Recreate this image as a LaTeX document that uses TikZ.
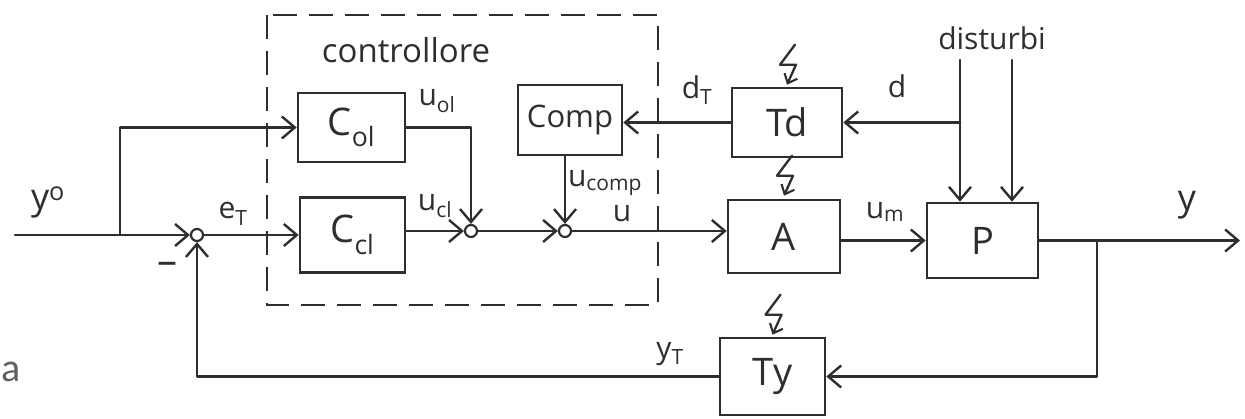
\documentclass[tikz,border=0pt]{standalone}
\usepackage{fontspec}
\setmainfont{Open Sans}
\newfontfamily\notefont{Carlito}
\usetikzlibrary{arrows.meta}

\definecolor{ink}{HTML}{2E2E2E}
\definecolor{notegray}{HTML}{606060}

\tikzset{
  wire/.style={draw=ink, line width=2.6pt, line cap=round, line join=round},
  flow/.style={wire, -{Straight Barb[length=13pt,width=22pt,line width=2.4pt]}},
  block/.style={draw=ink, line width=2.6pt, minimum width=#1, inner sep=0pt, text=ink,
                font=\fontsize{38}{40}\selectfont},
  sumpt/.style={draw=ink, line width=2.2pt, circle, minimum size=12pt, inner sep=0pt},
  lbl/.style={text=ink, inner sep=0pt, font=\fontsize{30}{32}\selectfont},
  biglbl/.style={text=ink, inner sep=0pt, font=\fontsize{36}{38}\selectfont},
  pics/zap/.style={code={
    \draw[wire, line width=2.3pt, -{Straight Barb[length=8pt,width=14pt,line width=2.1pt]}]
      (8,-42) -- (-7,-22) -- (9,-22) -- (0,-2);
  }}
}

\begin{document}
\begin{tikzpicture}[x=1pt, y=-1pt]
  \useasboundingbox (0,0) rectangle (1245,419);

  % controller boundary
  \draw[draw=ink, line width=2.4pt, dash pattern=on 24pt off 12pt]
    (267,15) rectangle (658,305);
  \node[lbl, font=\fontsize{33}{35}\selectfont] (ctrllbl) at (406,50) {controllore};

  % blocks
  \node[block=107pt, minimum height=69pt] (Col) at (351.5,127.5) {C\textsubscript{ol}};
  \node[block=105pt, minimum height=75pt] (Ccl) at (352.5,235) {C\textsubscript{cl}};
  \node[block=104pt, minimum height=70pt, font=\fontsize{31}{33}\selectfont] (Comp) at (570,120) {Comp};
  \node[block=110pt, minimum height=69pt] (Td) at (787,122.5) {Td};
  \node[block=112pt, minimum height=73pt] (A) at (784,236.5) {A};
  \node[block=111pt, minimum height=75pt] (P) at (982.5,240.5) {P};
  \node[block=105pt, minimum height=77pt] (Ty) at (772.5,376.5) {Ty};

  % summing junctions
  \node[sumpt] (s1) at (197,235) {};
  \node[sumpt] (s2) at (471,231) {};
  \node[sumpt] (s3) at (565,231) {};

  % free ends
  \coordinate (yin) at (15,235);
  \coordinate (br1) at (120,235);
  \coordinate (yout) at (1240,240.5);
  \coordinate (br2) at (1097,240.5);
  \coordinate (dtap) at (960,122.5);
  \coordinate (dist1) at (960,60);
  \coordinate (dist2) at (1012,60);

  % signal flow
  \draw[flow] (yin) -- (s1);
  \draw[flow] (br1) |- (Col.west);
  \draw[flow] (s1) -- (Ccl.west);
  \draw[flow] (Col.east) -| (s2.north);
  \draw[flow] (Ccl.east |- s2) -- (s2.west);
  \draw[flow] (s2) -- (s3);
  \draw[flow] (Comp.south -| s3) -- (s3.north);
  \draw[flow] (s3.east) -- (s3.east -| A.west);
  \draw[flow] (A.east |- P) -- (P.west);
  \draw[flow] (P.east) -- (yout);
  \draw[flow] (br2) |- (Ty.east);
  \draw[flow] (Ty.west) -| (s1.south);
  \draw[flow] (Td.west) -- (Td.west -| Comp.east);
  \draw[flow] (dtap) -- (Td.east);
  \draw[flow] (dist1) -- (dist1 |- P.north);
  \draw[flow] (dist2) -- (dist2 |- P.north);

  % uncertainty marks on the sensors and actuator
  \pic at (Td.north) {zap};
  \pic at ([yshift=1pt]A.north) {zap};
  \pic at (Ty.north) {zap};

  % signal labels
  \node[biglbl] (lyo) at (48,202) {y\textsuperscript{o}};
  \node[lbl] (leT) at (233,214) {e\textsubscript{T}};
  \node[text=ink, font=\fontsize{40}{42}\selectfont, inner sep=0pt] (lminus) at (167,268) {\textendash};
  \node[lbl] (luol) at (437,101) {u\textsubscript{ol}};
  \node[lbl] (lucl) at (435,206) {u\textsubscript{cl}};
  \node[lbl] (lucomp) at (605,183) {u\textsubscript{comp}};
  \node[lbl] (lu) at (622,214) {u};
  \node[lbl] (ldT) at (697,90) {d\textsubscript{T}};
  \node[lbl] (ld) at (897,86) {d};
  \node[lbl] (ldist) at (992,38) {disturbi};
  \node[lbl] (lum) at (885,212) {u\textsubscript{m}};
  \node[biglbl] (ly) at (1187,205) {y};
  \node[lbl] (lyT) at (670,354) {y\textsubscript{T}};

  % figure tag
  \node[text=notegray, inner sep=0pt, font=\notefont\fontsize{40}{42}\selectfont] (tag) at (11,372) {a};
\end{tikzpicture}
\end{document}
